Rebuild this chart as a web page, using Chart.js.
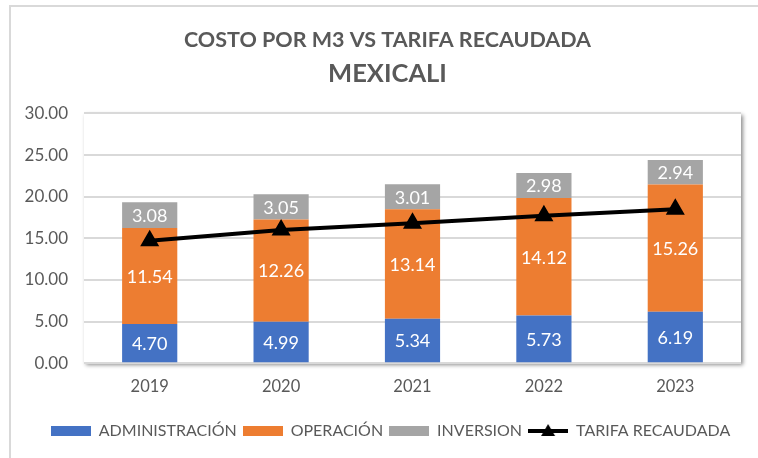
<!DOCTYPE html>
<html>
<head>
<meta charset="utf-8">
<script src="https://cdn.jsdelivr.net/npm/chart.js@4"></script>
<style>
  html, body { margin: 0; padding: 0; background: #fff; }
  #wrap { position: relative; width: 758px; height: 458px; }
</style>
</head>
<body>
<div id="wrap"><canvas id="myChart" width="758" height="458"></canvas></div>
<script>
// datos
const years = ['2019', '2020', '2021', '2022', '2023'];
const administracion = [4.70, 4.99, 5.34, 5.73, 6.19];
const operacion = [11.54, 12.26, 13.14, 14.12, 15.26];
const inversion = [3.08, 3.05, 3.01, 2.98, 2.94];
const tarifa = [14.7, 16.0, 16.8, 17.7, 18.5];
const yTicks = [0, 5, 10, 15, 20, 25, 30];

const FONT = 'Lato, "Open Sans", sans-serif';
const TXT = '#595959';

function boxIcon(color) {
    const c = document.createElement('canvas');
    c.width = 40; c.height = 10;
    const g = c.getContext('2d');
    g.fillStyle = color;
    g.fillRect(0, 0, 40, 10);
    return c;
}
function lineIcon() {
    const c = document.createElement('canvas');
    c.width = 40; c.height = 16;
    const g = c.getContext('2d');
    g.fillStyle = '#000';
    g.fillRect(0, 6, 40, 4);
    g.beginPath();
    g.moveTo(20, 1); g.lineTo(27, 13); g.lineTo(13, 13); g.closePath();
    g.fill();
    return c;
}

// fondo, borde y sombra del area de trazado
const framePlugin = {
    id: 'frame',
    afterLayout(chart) {
        // el grafico original esta centrado un poco mas a la derecha
        chart.boxes.forEach(b => {
            if (b.position === 'top' && b.options && b.options.text !== undefined) {
                b.left += 12; b.right += 12;
            }
            if (b === chart.legend) {
                b.left += 15; b.right += 15;
            }
        });
    },
    beforeDraw(chart) {
        const ctx = chart.ctx;
        const a = chart.chartArea;
        ctx.save();
        ctx.fillStyle = '#fff';
        ctx.fillRect(0, 0, chart.width, chart.height);
        ctx.fillStyle = '#d9d9d9';
        ctx.fillRect(9, 5, chart.width, 2);
        ctx.fillRect(9, 5, 2, chart.height);
        ctx.shadowColor = 'rgba(0,0,0,0.45)';
        ctx.shadowBlur = 4;
        ctx.shadowOffsetX = 2;
        ctx.shadowOffsetY = 2;
        ctx.fillStyle = '#fff';
        ctx.fillRect(a.left, a.top, a.right - a.left, a.bottom - a.top);
        ctx.restore();
    }
};

// etiquetas de valores dentro de las barras
const valueLabels = {
    id: 'valueLabels',
    afterDatasetsDraw(chart) {
        const ctx = chart.ctx;
        ctx.save();
        ctx.font = '18px ' + FONT;
        ctx.fillStyle = '#fff';
        ctx.textAlign = 'center';
        ctx.textBaseline = 'middle';
        chart.data.datasets.forEach((ds, i) => {
            if (ds.type === 'line') return;
            chart.getDatasetMeta(i).data.forEach((el, j) => {
                const y = (el.y + el.base) / 2;
                ctx.fillText(ds.data[j].toFixed(2), el.x, y + 1);
            });
        });
        ctx.restore();
    }
};

const legendIcons = [boxIcon('#4472C4'), boxIcon('#ED7D31'), boxIcon('#A5A5A5'), lineIcon()];

new Chart(document.getElementById('myChart'), {
    data: {
        labels: years,
        datasets: [
            { type: 'bar', label: 'ADMINISTRACIÓN', data: administracion, backgroundColor: '#4472C4', order: 1 },
            { type: 'bar', label: 'OPERACIÓN', data: operacion, backgroundColor: '#ED7D31', order: 1 },
            { type: 'bar', label: 'INVERSION', data: inversion, backgroundColor: '#A5A5A5', order: 1 },
            {
                type: 'line', label: 'TARIFA RECAUDADA', data: tarifa,
                borderColor: '#000', backgroundColor: '#000', borderWidth: 4,
                pointStyle: 'triangle', pointRadius: 7, pointBackgroundColor: '#000',
                pointBorderColor: '#000', tension: 0, order: 0
            }
        ]
    },
    options: {
        responsive: false,
        animation: false,
        layout: { padding: { left: 10, right: 17, top: 0, bottom: 9 } },
        datasets: { bar: { barPercentage: 0.42, categoryPercentage: 1 } },
        scales: {
            x: {
                stacked: true,
                grid: { display: false },
                border: { display: false },
                ticks: { color: TXT, font: { family: FONT, size: 16.5 }, padding: 6 },
                afterFit(axis) { axis.height += 14; }
            },
            y: {
                stacked: true,
                min: 0, max: 30,
                afterBuildTicks(axis) { axis.ticks = yTicks.map(v => ({ value: v })); },
                afterFit(axis) { axis.width = 74; },
                grid: { color: '#d9d9d9', lineWidth: 2, drawTicks: false },
                border: { display: false },
                ticks: {
                    color: TXT, font: { family: FONT, size: 17 }, padding: 16,
                    callback: v => v.toFixed(2)
                }
            }
        },
        plugins: {
            title: {
                display: true,
                text: 'COSTO POR M3 VS TARIFA RECAUDADA',
                color: TXT,
                font: { family: FONT, size: 21.5, weight: 'bold' },
                padding: { top: 27, bottom: 6 }
            },
            subtitle: {
                display: true,
                text: 'MEXICALI',
                color: TXT,
                font: { family: FONT, size: 25.5, weight: 'bold' },
                padding: { top: 0, bottom: 24 }
            },
            legend: {
                position: 'bottom',
                labels: {
                    usePointStyle: true,
                    pointStyleWidth: 40,
                    color: TXT,
                    font: { family: FONT, size: 16 },
                    padding: 6,
                    generateLabels(chart) {
                        return chart.data.datasets.map((ds, i) => ({
                            text: ds.label,
                            pointStyle: legendIcons[i],
                            fillStyle: ds.backgroundColor,
                            strokeStyle: ds.backgroundColor,
                            lineWidth: 0,
                            fontColor: TXT,
                            hidden: false,
                            datasetIndex: i
                        }));
                    }
                }
            },
            tooltip: { enabled: false }
        }
    },
    plugins: [framePlugin, valueLabels]
});
</script>
</body>
</html>
